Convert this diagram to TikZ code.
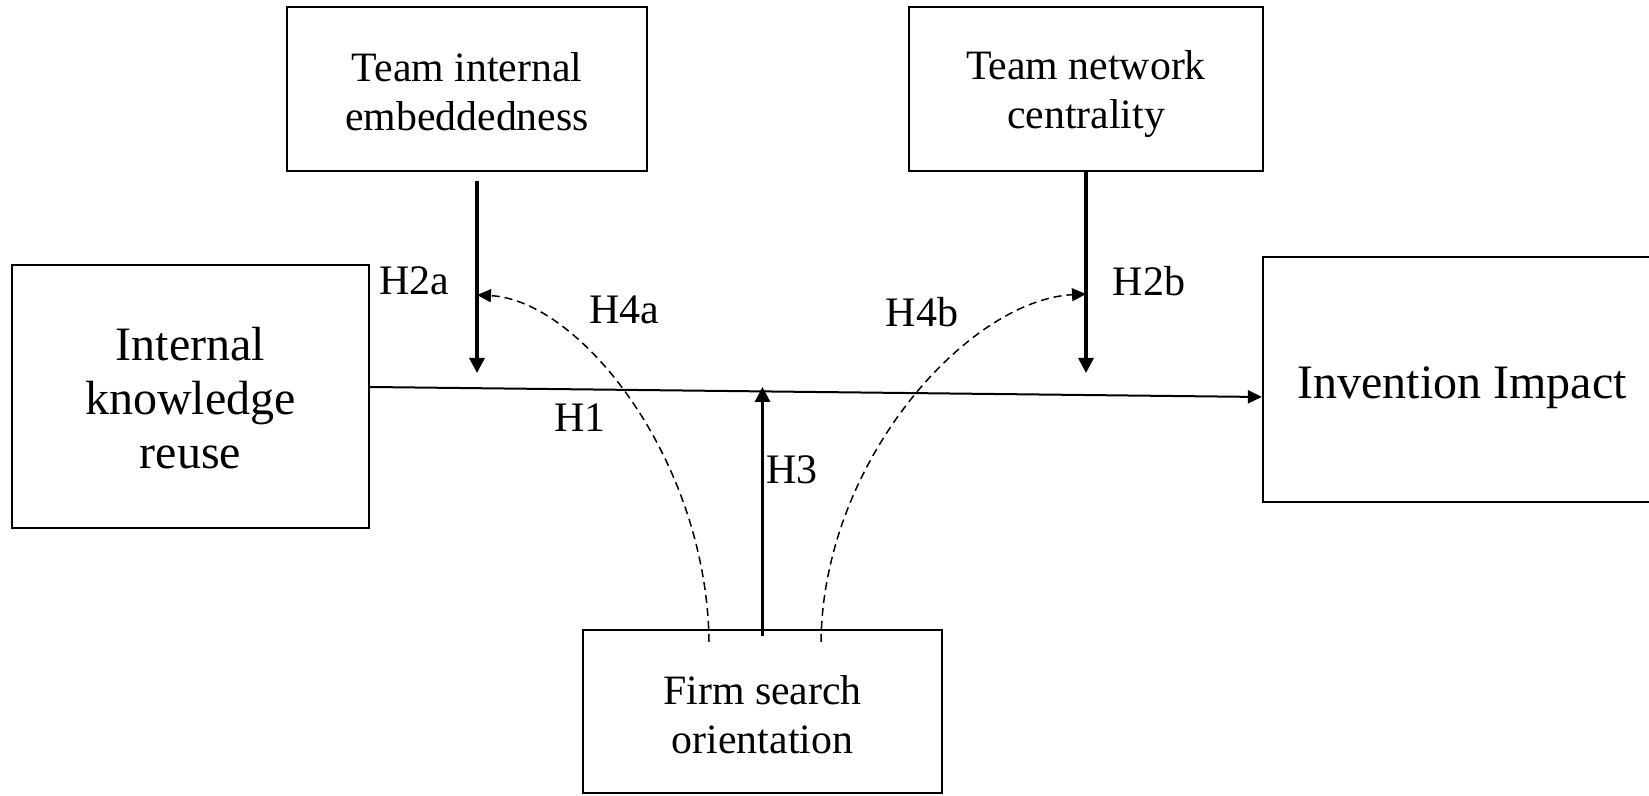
\documentclass[tikz,border=0pt]{standalone}
\usepackage{fontspec}
\setmainfont{Liberation Serif}
\usetikzlibrary{arrows.meta,calc}
\begin{document}
\begin{tikzpicture}[x=0.5pt,y=-0.5pt,
  box/.style={draw,line width=1.15pt,inner sep=0pt},
  txt/.style={align=center,inner sep=0pt},
  smalltext/.style={font=\fontsize{20.9}{24.5}\selectfont},
  bigtext/.style={font=\fontsize{24}{27}\selectfont},
  lab/.style={font=\fontsize{21}{24}\selectfont,inner sep=0pt},
  thickarrow/.style={line width=1.6pt,-{Triangle[length=7.5pt,width=7.5pt]}},
  mainarrow/.style={line width=1pt,-{Triangle[length=7pt,width=6.5pt]}},
  modarrow/.style={line width=0.75pt,dash pattern=on 4pt off 2.5pt,-{Triangle[length=7pt,width=6.5pt]}}]
\clip (0,0) rectangle (1649,796);
\fill[white] (0,0) rectangle (1649,796);
% boxes
\node[box,minimum width=180pt,minimum height=82pt] (tie) at (467,89) {};
\node[box,minimum width=177pt,minimum height=82pt] (tnc) at (1086,89) {};
\node[box,minimum width=178.5pt,minimum height=131.5pt] (ikr) at (190.5,396.5) {};
\node[box,minimum width=199pt,minimum height=122.5pt] (ii) at (1462,379.5) {};
\node[box,minimum width=179.5pt,minimum height=81.5pt] (fso) at (762.5,711.5) {};
% box texts
\node[txt,smalltext] (tieT) at ($(tie.center)+(0,3)$) {Team internal\\embeddedness};
\node[txt,smalltext] (tncT) at ($(tnc.center)+(0,5)$) {Team network\\centrality};
\node[txt,bigtext] (ikrT) at ($(ikr.center)+(0,2)$) {Internal\\knowledge\\reuse};
\node[txt,bigtext] (iiT) at ($(ii.center)+(0,8.5)$) {Invention Impact};
\node[txt,smalltext] (fsoT) at ($(fso.center)+(0,3)$) {Firm search\\orientation};
% coordinates
\coordinate (h2aend) at (477,373);
\coordinate (h2bend) at (1086,373);
\coordinate (h3end) at (762.5,387);
\coordinate (m4a) at (477,295);
\coordinate (m4b) at (1086,294);
% main effect
\draw[mainarrow] ($(ikr.east)+(0,-9.5)$) -- ($(ii.west)+(0,17.5)$);
% moderators
\draw[thickarrow] ($(tie.south)+(10,9)$) -- (h2aend);
\draw[thickarrow] (tnc.south) -- (h2bend);
\draw[thickarrow] ($(fso.north)+(0,7)$) -- (h3end);
% dashed
\draw[modarrow] ($(fso.north)+(-53.5,13)$) .. controls (707,460) and (580,300) .. (m4a);
\draw[modarrow] ($(fso.north)+(58.5,13)$) .. controls (823,460) and (969,300) .. (m4b);
% labels
\node[lab] (l2a) at (414,281) {H2a};
\node[lab] (l4a) at (624,310) {H4a};
\node[lab] (l1) at (580,418) {H1};
\node[lab] (l3) at (792,470) {H3};
\node[lab] (l4b) at (922,312) {H4b};
\node[lab] (l2b) at (1149,281) {H2b};
\end{tikzpicture}
\end{document}
